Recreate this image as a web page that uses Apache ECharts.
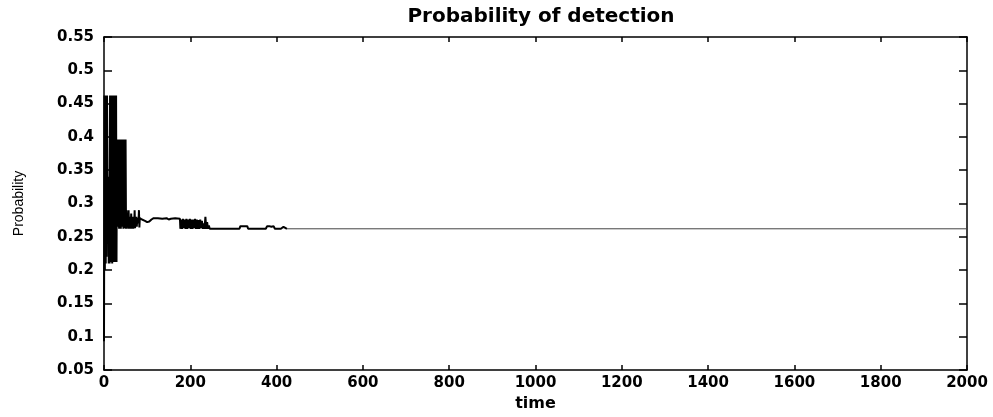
<!DOCTYPE html>
<html>
<head>
<meta charset="utf-8">
<script src="https://cdn.jsdelivr.net/npm/echarts@6/dist/echarts.min.js"></script>
<style>
html,body{margin:0;padding:0;background:#fff;}
#chart{width:993px;height:417px;}
</style>
</head>
<body>
<div id="chart"></div>
<script>
const titleText = 'Probability of detection';
const xName = 'time';
const yName = 'Probability';

// time stamps and probability values
const times = [
  0,1,2,3,4,5,6,7,8,9,10,11,12,13,14,15,16,17,18,19,20,21,22,23,24,25,26,27,28,
  29,30,31,32,33,34,35,36,37,38,39,40,41,42,43,44,45,46,47,48,49,50,51,52,53,
  54,55,56,57,58,59,60,61,62,63,64,65,66,67,68,69,70,71,72,73,74,75,76,77,78,79,80,81,82,83,84,86,88,
  90,95,100,105,110,115,125,135,145,150,155,165,176,
  177,179,181,183,185,187,189,191,193,195,197,199,201,203,205,207,209,211,213,215,217,219,221,223,225,227,229,231,233,235,237,239,241,243,245,
  314,316,320,324,328,332,334,
  375,378,383,388,393,396,
  410,416,420,424,
  2000
];
const probs = [
  0.093,0.462,0.20,0.462,0.21,0.46,0.22,0.462,0.35,0.29,0.34,0.21,0.33,0.21,0.462,0.212,0.462,0.212,0.46,0.21,0.462,0.22,0.46,0.212,0.462,0.25,0.462,0.212,0.462,
  0.212,0.396,0.27,0.396,0.265,0.33,0.262,0.396,0.27,0.396,0.262,0.34,0.265,0.396,0.268,0.396,0.262,0.33,0.263,0.396,0.27,0.396,0.262,0.29,0.264,
  0.262,0.278,0.262,0.29,0.265,0.28,0.262,0.276,0.264,0.285,0.262,0.278,0.265,0.28,0.262,0.276,0.266,0.29,0.263,0.278,0.268,0.28,0.265,0.277,0.27,0.278,0.272,0.29,0.264,0.278,0.276,0.277,0.276,
  0.276,0.274,0.272,0.273,0.276,0.278,0.278,0.277,0.278,0.276,0.277,0.278,0.277,
  0.262,0.276,0.262,0.277,0.263,0.276,0.262,0.277,0.262,0.276,0.263,0.277,0.262,0.276,0.262,0.276,0.263,0.277,0.262,0.276,0.262,0.275,0.262,0.276,0.263,0.274,0.262,0.27,0.262,0.28,0.262,0.272,0.262,0.267,0.262,
  0.262,0.266,0.265,0.266,0.264,0.266,0.262,
  0.262,0.266,0.266,0.265,0.266,0.262,
  0.262,0.265,0.267,0.262,
  0.262
];
// last time of the noisy (thick) stretch; after it the curve settles
const settleTime = 424;

const xMin = 0, xMax = 2000, xStep = 200;
const yMin = 0.05, yMax = 0.55, yStep = 0.05;

const allData = times.map((t, i) => [t, probs[i]]);
const noisyData = allData.filter(d => d[0] <= settleTime);
const settledData = allData.filter(d => d[0] >= settleTime);

const chart = echarts.init(document.getElementById('chart'), null, {renderer: 'canvas'});
const labelFont = {color: '#000', fontFamily: 'DejaVu Sans', fontWeight: 'bold', fontSize: 15};
const lineStyle = {color: '#000', width: 1.5};

chart.setOption({
  animation: false,
  backgroundColor: '#fff',
  title: {
    text: titleText,
    left: 536,
    textAlign: 'center',
    top: 2,
    textStyle: {color: '#000', fontFamily: 'DejaVu Sans', fontWeight: 'bold', fontSize: 20}
  },
  grid: {left: 104, right: 26, top: 37, bottom: 40, containLabel: false},
  xAxis: [
    {
      type: 'value', min: xMin, max: xMax, interval: xStep, position: 'bottom',
      axisLine: {show: true, onZero: false, lineStyle: lineStyle},
      axisTick: {show: true, inside: true, length: 5, lineStyle: {color: '#000', width: 1.5}},
      axisLabel: Object.assign({margin: 6, formatter: v => String(v)}, labelFont),
      splitLine: {show: false},
      name: xName, nameLocation: 'middle', nameGap: 26,
      nameTextStyle: {color: '#000', fontFamily: 'DejaVu Sans', fontWeight: 'bold', fontSize: 16}
    },
    {
      type: 'value', min: xMin, max: xMax, interval: xStep, position: 'top',
      axisLine: {show: true, onZero: false, lineStyle: lineStyle},
      axisTick: {show: true, inside: true, length: 5, lineStyle: {color: '#000', width: 1.5}},
      axisLabel: {show: false},
      splitLine: {show: false}
    }
  ],
  yAxis: [
    {
      type: 'value', min: yMin, max: yMax, interval: yStep, position: 'left',
      axisLine: {show: true, onZero: false, lineStyle: lineStyle},
      axisTick: {show: true, inside: true, length: 8, lineStyle: {color: '#000', width: 1.5}},
      axisLabel: Object.assign({margin: 10, formatter: v => String(parseFloat(v.toFixed(2)))}, labelFont),
      splitLine: {show: false},
      name: yName, nameLocation: 'middle', nameGap: 78,
      nameTextStyle: {color: '#000', fontFamily: 'Liberation Sans', fontSize: 14}
    },
    {
      type: 'value', min: yMin, max: yMax, interval: yStep, position: 'right',
      axisLine: {show: true, onZero: false, lineStyle: lineStyle},
      axisTick: {show: true, inside: true, length: 8, lineStyle: {color: '#000', width: 1.5}},
      axisLabel: {show: false},
      splitLine: {show: false}
    }
  ],
  series: [
    {
      type: 'line', xAxisIndex: 0, yAxisIndex: 0,
      data: noisyData,
      showSymbol: false, symbol: 'none',
      lineStyle: {color: '#000', width: 2},
      emphasis: {disabled: true}
    },
    {
      type: 'line', xAxisIndex: 0, yAxisIndex: 0,
      data: settledData,
      showSymbol: false, symbol: 'none',
      lineStyle: {color: '#444', width: 1},
      emphasis: {disabled: true}
    }
  ]
});
</script>
</body>
</html>
